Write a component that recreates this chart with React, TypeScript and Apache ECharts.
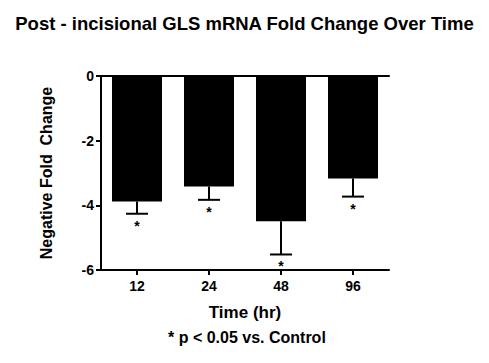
import React, { useEffect, useRef } from "react";
import * as echarts from "echarts";

const categories = ["12", "24", "48", "96"];
const meanValues = [-3.88, -3.42, -4.49, -3.17];
const errorValues = [0.38, 0.41, 1.03, 0.56];
const significance = ["*", "*", "*", "*"];
const yTicks = { min: -6, max: 0, interval: 2 };

const FONT = "'Liberation Sans', Arial, sans-serif";

export default function App() {
  const ref = useRef<HTMLDivElement>(null);
  useEffect(() => {
    if (!ref.current) return;
    const chart = echarts.init(ref.current, null, { renderer: "svg" });
    const errData = meanValues.map((v, i) => [i, v, v - errorValues[i], significance[i]]);
    chart.setOption({
      animation: false,
      backgroundColor: "#ffffff",
      title: {
        text: "Post - incisional GLS mRNA Fold Change Over Time",
        left: "center",
        top: 9,
        textStyle: { fontFamily: FONT, fontWeight: "bold", fontSize: 18.5, color: "#000" },
      },
      grid: { left: 101, right: 100, top: 76, bottom: 93, containLabel: false },
      xAxis: [
        {
          type: "category",
          data: categories,
          position: "bottom",
          axisLine: { onZero: false, lineStyle: { color: "#000", width: 2 } },
          axisTick: { show: true, alignWithLabel: true, length: 5, lineStyle: { color: "#000", width: 2 } },
          axisLabel: { fontFamily: FONT, fontWeight: "bold", fontSize: 14, color: "#000", margin: 9 },
          name: "Time (hr)",
          nameLocation: "middle",
          nameGap: 34,
          nameTextStyle: { fontFamily: FONT, fontWeight: "bold", fontSize: 17, color: "#000" },
        },
        {
          type: "category",
          data: categories,
          position: "top",
          axisLine: { show: true, lineStyle: { color: "#000", width: 2 } },
          axisTick: { show: false },
          axisLabel: { show: false },
        },
      ],
      yAxis: {
        type: "value",
        min: yTicks.min,
        max: yTicks.max,
        interval: yTicks.interval,
        splitLine: { show: false },
        axisLine: { show: true, lineStyle: { color: "#000", width: 2 } },
        axisTick: { show: true, length: 5, lineStyle: { color: "#000", width: 2 } },
        axisLabel: { fontFamily: FONT, fontWeight: "bold", fontSize: 14, color: "#000", margin: 7 },
        name: "Negative Fold  Change",
        nameLocation: "middle",
        nameGap: 47,
        nameTextStyle: { fontFamily: FONT, fontWeight: "bold", fontSize: 16, color: "#000" },
      },
      graphic: [
        {
          type: "text",
          left: 168,
          top: 329,
          style: {
            text: "* p < 0.05 vs. Control",
            font: `bold 16px ${FONT}`,
            fill: "#000",
          },
        },
      ],
      series: [
        {
          type: "bar",
          data: meanValues,
          barWidth: 50,
          itemStyle: { color: "#000" },
        },
        {
          type: "custom",
          data: errData,
          z: 10,
          renderItem: (params: any, api: any) => {
            const x = api.value(0);
            const top = api.coord([x, api.value(1)]);
            const bot = api.coord([x, api.value(2)]);
            const hw = 11;
            return {
              type: "group",
              children: [
                {
                  type: "line",
                  shape: { x1: top[0], y1: top[1], x2: bot[0], y2: bot[1] },
                  style: { stroke: "#000", lineWidth: 2 },
                },
                {
                  type: "line",
                  shape: { x1: bot[0] - hw, y1: bot[1], x2: bot[0] + hw, y2: bot[1] },
                  style: { stroke: "#000", lineWidth: 2 },
                },
                {
                  type: "text",
                  x: bot[0],
                  y: bot[1] + 5,
                  style: {
                    text: String(api.value(3)),
                    font: `bold 14px ${FONT}`,
                    fill: "#000",
                    align: "center",
                    verticalAlign: "top",
                  },
                },
              ],
            };
          },
        },
      ],
    });
    return () => chart.dispose();
  }, []);
  return <div ref={ref} style={{ width: 489, height: 363, position: "absolute", left: 0, top: 0 }} />;
}
